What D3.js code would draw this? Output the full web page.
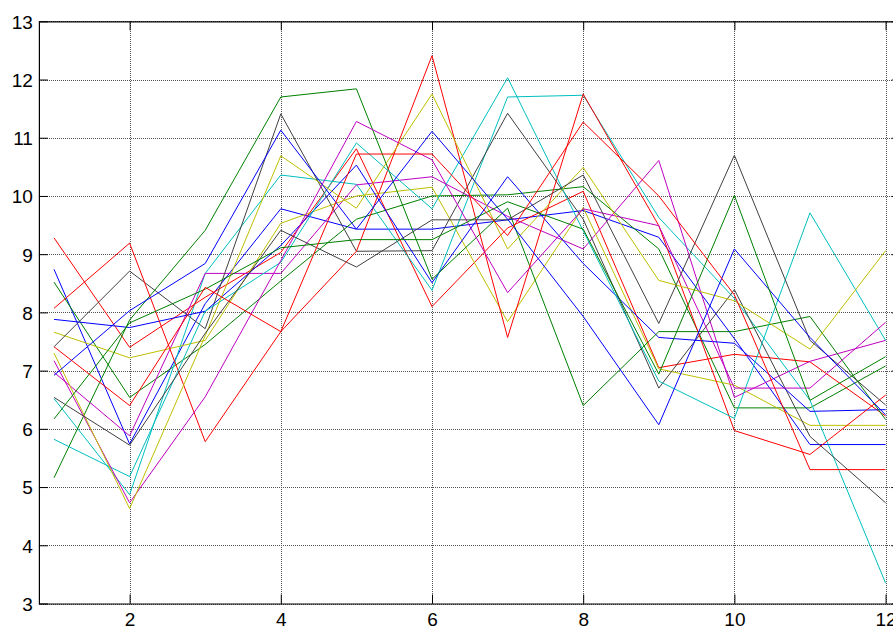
<!DOCTYPE html>
<html>
<head>
<meta charset="utf-8">
<script src="https://cdn.jsdelivr.net/npm/d3@7"></script>
<style>
  html, body { margin: 0; padding: 0; background: #fff; overflow: hidden; }
  svg { display: block; }
  text { font-family: "Liberation Sans", Arial, sans-serif; }
</style>
</head>
<body>
<svg id="chart" width="893" height="630"></svg>
<script>
// ---- data ----
const xValues = [1, 2, 3, 4, 5, 6, 7, 8, 9, 10, 11, 12];
const xTicks = [2, 4, 6, 8, 10, 12];
const yTicks = [3, 4, 5, 6, 7, 8, 9, 10, 11, 12, 13];

const s01 = [8.74, 5.74, 8.15, 9.78, 9.43, 9.43, 9.59, 9.75, 9.29, 7.55, 5.73, 5.73];
const s02 = [8.52, 6.54, 7.45, 8.54, 9.60, 10.00, 10.02, 10.16, 9.09, 6.36, 6.36, 7.08];
const s03 = [9.28, 7.40, 8.26, 9.03, 10.81, 8.10, 9.45, 10.08, 7.05, 7.28, 7.15, 6.22];
const s04 = [6.52, 4.87, 8.67, 10.36, 10.20, 8.38, 11.70, 11.73, 9.63, 8.24, 6.49, 3.35];
const s05 = [6.97, 5.88, 8.67, 8.67, 10.19, 10.33, 9.65, 9.09, 10.61, 6.54, 7.16, 7.52];
const s06 = [7.66, 7.22, 7.52, 9.53, 10.00, 10.15, 7.84, 9.80, 7.03, 6.75, 6.06, 6.06];
const s07 = [7.41, 8.71, 7.72, 11.41, 9.05, 9.06, 11.42, 9.60, 6.70, 8.39, 5.87, 4.73];
const s08 = [7.88, 7.74, 8.02, 9.15, 10.53, 8.51, 10.33, 8.84, 7.57, 7.47, 6.30, 6.33];
const s09 = [5.16, 7.87, 9.41, 11.70, 11.84, 8.57, 9.79, 6.40, 7.67, 7.67, 7.93, 6.16];
const s10 = [8.07, 9.19, 5.78, 7.67, 9.05, 12.41, 7.57, 11.75, 9.49, 5.97, 5.56, 6.58];
const s11 = [5.82, 5.18, 8.02, 8.86, 10.91, 9.78, 12.03, 9.40, 6.82, 6.18, 9.71, 7.52];
const s12 = [7.17, 4.73, 6.55, 8.89, 11.28, 10.62, 8.34, 9.78, 9.49, 6.70, 6.70, 7.83];
const s13 = [7.30, 4.63, 7.60, 10.69, 9.79, 11.75, 9.09, 10.49, 8.55, 8.20, 7.37, 9.06];
const s14 = [6.54, 5.72, 7.64, 9.41, 8.78, 9.59, 9.59, 10.36, 7.81, 10.70, 7.52, 6.41];
const s15 = [6.92, 8.03, 8.84, 11.13, 9.43, 11.11, 9.60, 7.93, 6.07, 9.09, 7.57, 6.24];
const s16 = [6.17, 7.82, 8.40, 9.11, 9.25, 9.25, 9.90, 9.43, 6.94, 10.01, 6.49, 7.24];
const s17 = [7.41, 6.40, 8.43, 7.67, 10.72, 10.72, 9.32, 11.27, 10.00, 8.30, 5.30, 5.30];

const seriesList = [s01, s02, s03, s04, s05, s06, s07, s08, s09, s10, s11, s12, s13, s14, s15, s16, s17];
// MATLAB classic colour order
const colorOrder = ["#0000ff", "#008000", "#ff0000", "#00bfbf", "#bf00bf", "#bfbf00", "#404040"];

// ---- layout ----
const svg = d3.select("#chart");
const x = d3.scaleLinear().domain([0.8, 12.2]).range([38.9, 900.7]);
const y = d3.scaleLinear().domain([3, 13]).range([603.5, 21.3]);
const plotLeft = x.range()[0], plotRight = x.range()[1];
const plotTop = y.range()[1], plotBottom = y.range()[0];
const plotW = plotRight - plotLeft, plotH = plotBottom - plotTop;
const fontSize = 19;

// grid (MATLAB dotted grid)
const gridX = svg.append("g")
  .attr("transform", `translate(0,${plotBottom})`)
  .call(d3.axisBottom(x).tickValues(xTicks).tickSize(-plotH).tickFormat(""));
const gridY = svg.append("g")
  .attr("transform", `translate(${plotLeft},0)`)
  .call(d3.axisLeft(y).tickValues(yTicks).tickSize(-plotW).tickFormat(""));
[gridX, gridY].forEach(g => {
  g.select(".domain").remove();
  g.selectAll("line").attr("stroke", "#555").attr("stroke-width", 1)
    .attr("stroke-dasharray", "1,1").attr("shape-rendering", "crispEdges");
});

// lines
const line = d3.line().x((d, i) => x(xValues[i])).y(d => y(d));
svg.append("g").selectAll("path")
  .data(seriesList)
  .join("path")
  .attr("d", d => line(d))
  .attr("fill", "none")
  .attr("stroke", (d, i) => colorOrder[i % colorOrder.length])
  .attr("stroke-width", 1)
  .attr("stroke-linejoin", "miter");

// axes (box with inward ticks)
const tickLen = 9;
const axB = svg.append("g").attr("transform", `translate(0,${plotBottom})`)
  .call(d3.axisBottom(x).tickValues(xTicks).tickSizeInner(-tickLen).tickSizeOuter(0).tickPadding(9.5));
const axT = svg.append("g").attr("transform", `translate(0,${plotTop})`)
  .call(d3.axisTop(x).tickValues(xTicks).tickSizeInner(-tickLen).tickSizeOuter(0).tickFormat(""));
const axL = svg.append("g").attr("transform", `translate(${plotLeft},0)`)
  .call(d3.axisLeft(y).tickValues(yTicks).tickSizeInner(-tickLen).tickSizeOuter(0).tickPadding(6));
const axR = svg.append("g").attr("transform", `translate(${plotRight},0)`)
  .call(d3.axisRight(y).tickValues(yTicks).tickSizeInner(-tickLen).tickSizeOuter(0).tickFormat(""));
[axB, axT, axL, axR].forEach(g => {
  g.select(".domain").attr("stroke", "#000").attr("stroke-width", 1.2);
  g.selectAll(".tick line").attr("stroke", "#000").attr("stroke-width", 1);
  g.selectAll("text").attr("fill", "#000").style("font-size", fontSize + "px")
    .style("font-family", '"Liberation Sans", Arial, sans-serif');
});
axL.selectAll("text").attr("dy", "0.36em");
</script>
</body>
</html>
